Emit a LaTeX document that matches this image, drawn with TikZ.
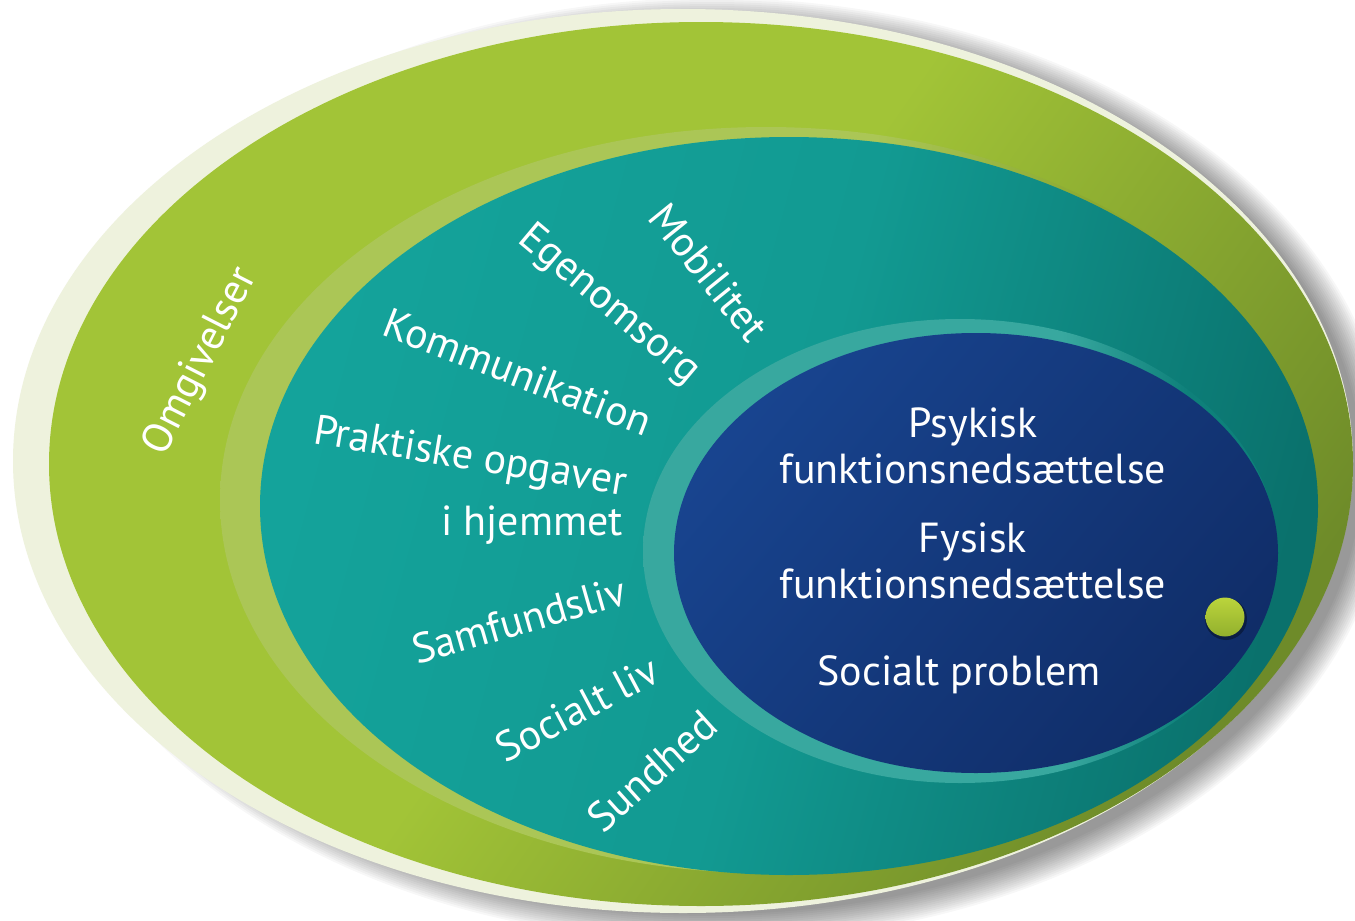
\documentclass[tikz,border=0pt]{standalone}
\usepackage{fontspec}
\setmainfont{PT Sans}
\definecolor{creamc}{HTML}{EEF2DD}
\definecolor{gA}{HTML}{A2C437}
\definecolor{gB}{HTML}{6E8B29}
\definecolor{gBand}{HTML}{ABC656}
\definecolor{gBandR}{HTML}{8AA931}
\definecolor{tA}{HTML}{14A39B}
\definecolor{tM}{HTML}{129A92}
\definecolor{tB}{HTML}{0A716C}
\definecolor{tBand}{HTML}{38A89F}
\definecolor{tBandR}{HTML}{0E807A}
\definecolor{bA}{HTML}{18448F}
\definecolor{bB}{HTML}{102D68}
\definecolor{dotA}{HTML}{BBD43C}
\definecolor{dotB}{HTML}{92B02D}
\pgfdeclarehorizontalshading{greensh}{100bp}{color(0bp)=(gA); color(25bp)=(gA); color(48bp)=(gA); color(75bp)=(gB); color(100bp)=(gB)}
\pgfdeclarehorizontalshading{gbandsh}{100bp}{color(0bp)=(gBand); color(25bp)=(gBand); color(55bp)=(gBand); color(65bp)=(gBandR); color(100bp)=(gBandR)}
\pgfdeclarehorizontalshading{tealsh}{100bp}{color(0bp)=(tA); color(25bp)=(tA); color(50bp)=(tM); color(75bp)=(tB); color(100bp)=(tB)}
\pgfdeclarehorizontalshading{tbandsh}{100bp}{color(0bp)=(tBand); color(25bp)=(tBand); color(58bp)=(tBand); color(68bp)=(tBandR); color(100bp)=(tBandR)}
\pgfdeclarehorizontalshading{bluesh}{100bp}{color(0bp)=(bA); color(25bp)=(bA); color(75bp)=(bB); color(100bp)=(bB)}
\tikzset{
  lbl/.style={text=white, font=\fontsize{21}{25}\selectfont, inner sep=1pt},
}
\begin{document}
\begin{tikzpicture}[x=0.5pt,y=-0.5pt]
\useasboundingbox (0,0) rectangle (1355,921);
\fill[white] (0,0) rectangle (1355,921);
% soft drop shadow
\foreach \k in {0,...,14}{
  \fill[black,opacity=0.03] (712,470) ellipse [x radius=650+2*\k, y radius=444+2*\k];
}
% cream rim
\fill[creamc] (683,461) ellipse [x radius=670, y radius=452];
% green outer ellipse
\shade[shading=greensh, shading angle=-35] (701,464) ellipse [x radius=652, y radius=442];
% light band round teal
\shade[shading=gbandsh] (766,500) ellipse [x radius=546, y radius=373];
% teal ellipse
\shade[shading=tealsh, shading angle=-15] (789,506) ellipse [x radius=529, y radius=369];
% light band round blue
\shade[shading=tbandsh] (960,551) ellipse [x radius=317, y radius=232];
% blue ellipse
\shade[shading=bluesh, shading angle=-40] (976,553) ellipse [x radius=302, y radius=220];
% green dot
\fill[black,opacity=0.35] (1226,619) circle [radius=21];
\shade[top color=dotA, bottom color=dotB] (1225,617) circle [radius=19.5];
% labels
\node[lbl, rotate=63] (omg) at (201,362) {Omgivelser};
\node[lbl, rotate=-51] (mob) at (709,272) {Mobilitet};
\node[lbl, rotate=-40] (ege) at (609,305) {Egenomsorg};
\node[lbl, rotate=-21] (kom) at (518,372) {Kommunikation};
\node[lbl, rotate=-9.5] (pra) at (470,459) {Praktiske opgaver};
\node[lbl, anchor=base] (hje) at (532,535) {i hjemmet};
\node[lbl, rotate=16] (sam) at (519,620) {Samfundsliv};
\node[lbl, rotate=28] (sol) at (577,709) {Socialt liv};
\node[lbl, rotate=42] (sun) at (652,771) {Sundhed};
\node[lbl, anchor=base] (psy) at (973,437) {Psykisk};
\node[lbl, anchor=base] (pfu) at (973,483) {funktionsnedsættelse};
\node[lbl, anchor=base] (fys) at (973,552) {Fysisk};
\node[lbl, anchor=base] (ffu) at (973,598) {funktionsnedsættelse};
\node[lbl, anchor=base] (soc) at (959,685) {Socialt problem};
\end{tikzpicture}
\end{document}
